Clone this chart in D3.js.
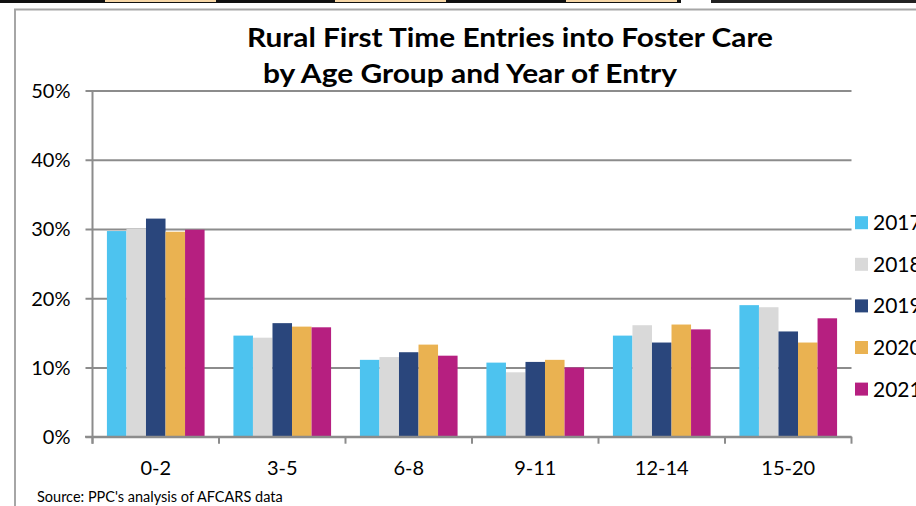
<!DOCTYPE html>
<html>
<head>
<meta charset="utf-8">
<script src="https://cdn.jsdelivr.net/npm/d3@7"></script>
<style>
  body { margin: 0; background: #fff; overflow: hidden; }
  text { font-family: Lato, "Open Sans", sans-serif; fill: #000; }
</style>
</head>
<body>
<script>
'use strict';

// chart data
const ageGroups = ["0-2", "3-5", "6-8", "9-11", "12-14", "15-20"];
const years = ["2017", "2018", "2019", "2020", "2021"];
const values2017 = [29.7, 14.6, 11.1, 10.7, 14.6, 19.0];
const values2018 = [30.0, 14.3, 11.5, 9.3, 16.1, 18.7];
const values2019 = [31.5, 16.4, 12.2, 10.8, 13.6, 15.2];
const values2020 = [29.6, 15.9, 13.3, 11.1, 16.2, 13.6];
const values2021 = [29.9, 15.8, 11.7, 10.0, 15.5, 17.1];
const yTicks = [0, 10, 20, 30, 40, 50];
const colors = ["#4dc3ef", "#d9d9d9", "#2a467c", "#eab251", "#b61f80"];

(function() {

  let svgContainer = "";
  const seriesValues = [values2017, values2018, values2019, values2020, values2021];

  window.onload = function() {
    svgContainer = d3.select('body')
      .append('svg')
      .attr('width', 916)
      .attr('height', 506);

    drawFrame();
    makeBarGraph();
  }

  // slide frame bits around the chart
  function drawFrame() {
    svgContainer.append('rect')
      .attr('x', 0).attr('y', 0).attr('width', 681).attr('height', 3)
      .attr('fill', '#111');
    svgContainer.append('rect')
      .attr('x', 711).attr('y', 0).attr('width', 205).attr('height', 3)
      .attr('fill', '#222');
    [105, 335, 566].forEach(function(x) {
      svgContainer.append('rect')
        .attr('x', x).attr('y', 0).attr('width', 111).attr('height', 2)
        .attr('fill', '#f6d6a6');
    });

    svgContainer.append('path')
      .attr('d', 'M15,506 L15,9.5 L916,9.5')
      .attr('fill', 'none')
      .attr('stroke', '#a6a6a6')
      .attr('stroke-width', 2);
  }

  function makeBarGraph() {
    const left = 92.5, right = 851.5, top = 90.5, bottom = 436.7;

    let xScale = d3.scaleBand()
      .domain(ageGroups)
      .range([left, right])
      .paddingInner(0.228)
      .paddingOuter(0.114);

    let xInner = d3.scaleBand()
      .domain(years)
      .range([0, xScale.bandwidth()]);

    let yScale = d3.scaleLinear()
      .domain([0, 50])
      .range([bottom, top]);

    makeAxes(xScale, yScale, left, right, bottom);
    plotData(xScale, xInner, yScale);
    makeLabels(xScale);
  }

  // gridlines, axis lines and tick labels
  function makeAxes(xScale, yScale, left, right, bottom) {
    let yAxis = d3.axisLeft(yScale)
      .tickValues(yTicks)
      .tickSize(-(right - left))
      .tickPadding(22)
      .tickFormat(function(d) { return d + '%'; });

    let gy = svgContainer.append('g')
      .attr('class', 'y axis')
      .attr('transform', 'translate(' + left + ',0)')
      .call(yAxis);
    gy.select('.domain').remove();
    gy.selectAll('line')
      .attr('x1', -7)
      .attr('stroke', '#8c8c8c')
      .attr('stroke-width', 2);
    gy.selectAll('text')
      .style('font-size', '20px')
      .attr('dy', '0.35em');

    // vertical axis line
    svgContainer.append('line')
      .attr('x1', left).attr('x2', left)
      .attr('y1', yScale(50)).attr('y2', bottom + 7)
      .attr('stroke', '#8c8c8c')
      .attr('stroke-width', 2);

    // category boundary ticks along the bottom
    let step = xScale.step();
    let bounds = d3.range(ageGroups.length + 1).map(function(i) { return left + i * step; });
    svgContainer.selectAll('.xtick')
      .data(bounds)
      .enter()
      .append('line')
      .attr('class', 'xtick')
      .attr('x1', function(d) { return d; })
      .attr('x2', function(d) { return d; })
      .attr('y1', bottom)
      .attr('y2', bottom + 7)
      .attr('stroke', '#8c8c8c')
      .attr('stroke-width', 2);
  }

  function plotData(xScale, xInner, yScale) {
    let groups = svgContainer.selectAll('.group')
      .data(ageGroups)
      .enter()
      .append('g')
      .attr('class', 'group')
      .attr('transform', function(d) { return 'translate(' + xScale(d) + ',0)'; });

    groups.selectAll('rect')
      .data(function(d, i) {
        return years.map(function(y, j) { return {year: y, value: seriesValues[j][i], idx: j}; });
      })
      .enter()
      .append('rect')
      .attr('x', function(d) { return xInner(d.year); })
      .attr('y', function(d) { return yScale(d.value); })
      .attr('width', xInner.bandwidth())
      .attr('height', function(d) { return yScale(0) - yScale(d.value); })
      .attr('fill', function(d) { return colors[d.idx]; });

    // redraw baseline over the bars
    svgContainer.append('line')
      .attr('x1', 85).attr('x2', 851.5)
      .attr('y1', yScale(0)).attr('y2', yScale(0))
      .attr('stroke', '#8c8c8c')
      .attr('stroke-width', 2);
  }

  // title, category labels, legend and source
  function makeLabels(xScale) {
    svgContainer.append('text')
      .attr('x', 247).attr('y', 47)
      .attr('textLength', 526)
      .attr('lengthAdjust', 'spacingAndGlyphs')
      .style('font-size', '27px')
      .style('font-weight', 'bold')
      .text('Rural  First Time Entries into Foster Care');
    svgContainer.append('text')
      .attr('x', 263).attr('y', 83)
      .attr('textLength', 414)
      .attr('lengthAdjust', 'spacingAndGlyphs')
      .style('font-size', '27px')
      .style('font-weight', 'bold')
      .text('by Age Group and Year of Entry');

    svgContainer.selectAll('.xlabel')
      .data(ageGroups)
      .enter()
      .append('text')
      .attr('class', 'xlabel')
      .attr('x', function(d) { return xScale(d) + xScale.bandwidth() / 2; })
      .attr('y', 475)
      .style('font-size', '20px')
      .style('text-anchor', 'middle')
      .text(function(d) { return d; });

    let legend = svgContainer.selectAll('.legend')
      .data(years)
      .enter()
      .append('g')
      .attr('class', 'legend')
      .attr('transform', function(d, i) { return 'translate(855,' + (222.7 + i * 41.6) + ')'; });
    legend.append('rect')
      .attr('x', 0).attr('y', -6.5)
      .attr('width', 13).attr('height', 13)
      .attr('fill', function(d, i) { return colors[i]; });
    legend.append('text')
      .attr('x', 18).attr('y', 7.5)
      .style('font-size', '21px')
      .text(function(d) { return d; });

    svgContainer.append('text')
      .attr('x', 37).attr('y', 502)
      .style('font-size', '14.5px')
      .text("Source: PPC's analysis of AFCARS data");
  }
})();
</script>
</body>
</html>
